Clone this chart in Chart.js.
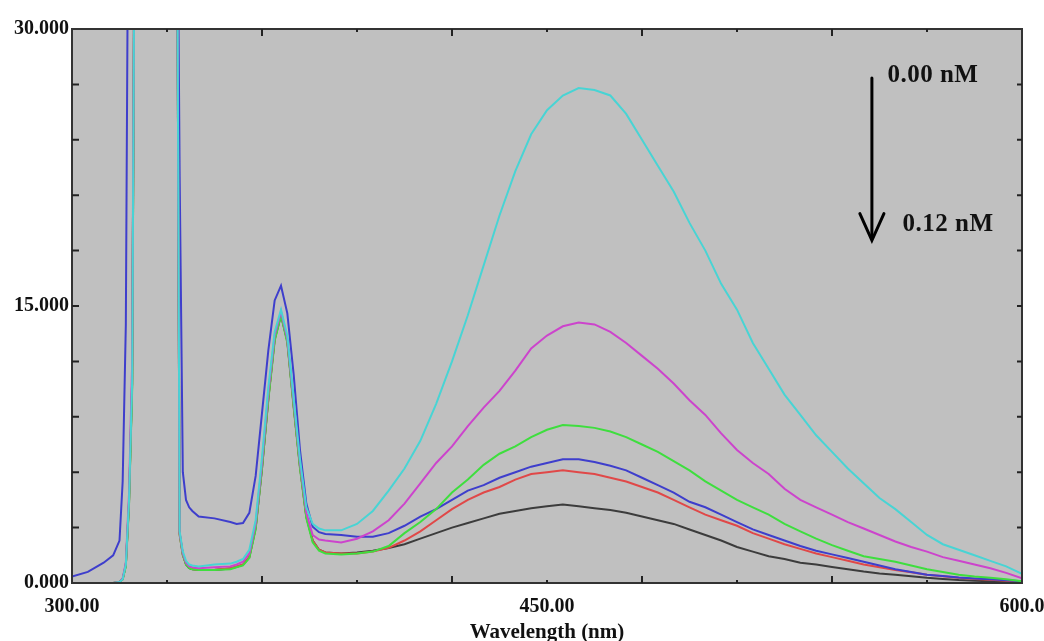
<!DOCTYPE html>
<html><head><meta charset="utf-8">
<script src="https://cdn.jsdelivr.net/npm/chart.js@4.4.1/dist/chart.umd.min.js"></script>
<style>html,body{margin:0;padding:0;background:#fff;}#wrap{width:1044px;height:641px;}</style>
</head><body><div id="wrap"><canvas id="c" width="1044" height="641"></canvas></div>
<script>
// Wavelength grid (nm)
const wavelengths = [300,305,310,313,315,316,317,318,319,320,325,330,332,333,334,335,336,337,338,340,345,350,352,354,356,358,360,362,364,366,368,370,372,374,376,378,380,385,390,395,400,405,410,415,420,425,430,435,440,445,450,455,460,465,470,475,480,485,490,495,500,505,510,515,520,525,530,535,540,545,550,555,560,565,570,575,580,585,590,595,600];

// Intensities (a.u.)  — values above 30 are off-scale scatter peaks
const cyanSeries = [0,0,0,0,0.05,0.2,1.0,4.5,11,45, 45,45, 45,45,2.8,1.7,1.2,1.0,0.95, 0.9,1.0,1.05, 1.15,1.3,1.8,3.4,6.8,10.6,13.6,14.8,13.4,10.0,6.7,4.1,3.2,2.95,2.85,
 2.85,3.2,3.9,5.0,6.2,7.7,9.7,12.0,14.5,17.2,19.9,22.3,24.3,25.6,26.4,26.8,26.7,26.4,25.4,24.0,22.6,21.2,19.5,18.0,16.2,14.8,13.0,11.6,10.2,9.1,8.0,7.1,6.2,5.4,4.6,4.0,3.3,2.6,2.1,1.8,1.5,1.2,0.9,0.5];
const magentaSeries = [0,0,0,0,0.05,0.25,1.1,4.8,12,45, 45,45, 45,45,2.7,1.6,1.1,0.9,0.85, 0.8,0.85,0.9, 1.0,1.15,1.6,3.2,6.5,10.3,13.4,14.7,13.2,9.8,6.5,3.8,2.6,2.35,2.3,
 2.2,2.4,2.8,3.4,4.3,5.4,6.5,7.4,8.5,9.5,10.4,11.5,12.7,13.4,13.9,14.1,14.0,13.6,13.0,12.3,11.6,10.8,9.9,9.1,8.1,7.2,6.5,5.9,5.1,4.5,4.1,3.7,3.3,2.95,2.6,2.25,1.95,1.7,1.4,1.2,1.0,0.8,0.55,0.25];
const greenSeries = [0,0,0,0,0.05,0.2,0.9,4.2,10.5,45, 45,45, 45,45,2.6,1.5,1.0,0.8,0.75, 0.7,0.7,0.75, 0.85,0.95,1.35,2.9,6.2,9.9,13.1,14.5,13.0,9.5,6.2,3.5,2.2,1.75,1.6,
 1.55,1.6,1.7,2.0,2.7,3.3,4.0,4.9,5.6,6.4,7.0,7.4,7.9,8.3,8.55,8.5,8.4,8.2,7.9,7.5,7.1,6.6,6.1,5.5,5.0,4.5,4.1,3.7,3.2,2.8,2.4,2.05,1.75,1.45,1.3,1.15,0.95,0.75,0.6,0.45,0.35,0.28,0.2,0.1];
const blueSeries = [0.35,0.6,1.1,1.5,2.3,5.5,14,45,45,45, 45,45, 45,45,22,6.0,4.5,4.1,3.9, 3.6,3.5,3.3, 3.2,3.25,3.8,5.8,9.2,12.6,15.3,16.1,14.6,11.3,7.2,4.3,3.05,2.75,2.65,
 2.6,2.5,2.5,2.7,3.1,3.6,4.0,4.5,5.0,5.3,5.7,6.0,6.3,6.5,6.7,6.7,6.55,6.35,6.1,5.7,5.3,4.9,4.4,4.1,3.7,3.3,2.9,2.6,2.3,2.0,1.75,1.55,1.35,1.15,0.95,0.75,0.6,0.45,0.38,0.3,0.25,0.2,0.15,0.1];
const redSeries = [0,0,0,0,0.05,0.2,1.0,4.4,11,45, 45,45, 45,45,2.6,1.5,1.05,0.85,0.75, 0.7,0.72,0.8, 0.9,1.0,1.4,3.0,6.3,10.0,13.2,14.6,13.1,9.6,6.3,3.6,2.3,1.8,1.65,
 1.6,1.6,1.7,1.9,2.3,2.8,3.4,4.0,4.5,4.9,5.2,5.6,5.9,6.0,6.1,6.0,5.9,5.7,5.5,5.2,4.9,4.5,4.1,3.7,3.4,3.1,2.7,2.4,2.1,1.85,1.6,1.4,1.2,1.0,0.85,0.7,0.58,0.45,0.36,0.28,0.22,0.18,0.12,0.08];
const blackSeries = [0,0,0,0,0.05,0.2,0.95,4.3,10.8,45, 45,45, 45,45,2.7,1.55,1.0,0.8,0.75, 0.72,0.7,0.78, 0.88,0.98,1.4,3.0,6.2,10.0,13.2,14.5,13.1,9.6,6.3,3.6,2.3,1.8,1.65,
 1.6,1.65,1.75,1.9,2.1,2.4,2.7,3.0,3.25,3.5,3.75,3.9,4.05,4.15,4.25,4.15,4.05,3.95,3.8,3.6,3.4,3.2,2.9,2.6,2.3,1.95,1.7,1.45,1.3,1.1,1.0,0.87,0.75,0.62,0.52,0.45,0.37,0.28,0.22,0.16,0.12,0.1,0.08,0.05];

const seriesLabels = ['0.00 nM','Spectrum 2','Spectrum 3','Spectrum 4','Spectrum 5','0.12 nM'];
const seriesColors = ['#48d4d4','#cc44cc','#3ede3e','#3e3ecc','#e04848','#3c3c3c'];
const yTickLabels = {0:'0.000',15:'15.000',30:'30.000'};
const xTickLabels = {300:'300.00',450:'450.00',600:'600.0'};
const annotTop = '0.00 nM', annotBottom = '0.12 nM';

const allSeries = [cyanSeries, magentaSeries, greenSeries, blueSeries, redSeries, blackSeries];
const datasets = allSeries.map((s,i)=>({
  label: seriesLabels[i],
  data: wavelengths.map((w,j)=>({x:w,y:s[j]})),
  borderColor: seriesColors[i],
  borderWidth: 2,
  pointRadius: 0,
  tension: 0,
  fill: false
}));

const SERIF = '"Liberation Serif","DejaVu Serif",serif';

const framePlugin = {
  id:'frame',
  beforeDraw(chart){
    const {ctx, chartArea:a} = chart;
    ctx.save(); ctx.fillStyle='#c0c0c0';
    ctx.fillRect(a.left,a.top,a.right-a.left,a.bottom-a.top); ctx.restore();
  },
  afterDatasetsDraw(chart){
    const {ctx, chartArea:a, scales:{x,y}} = chart;
    ctx.save();
    ctx.strokeStyle='#333'; ctx.lineWidth=2;
    ctx.strokeRect(a.left,a.top,a.right-a.left,a.bottom-a.top);
    ctx.lineWidth=2; ctx.strokeStyle='#222';
    ctx.beginPath();
    for(let v=330, k=1; v<600; v+=30, k++){
      const px = x.getPixelForValue(v); const len = (k%2===0)?7:3;
      ctx.moveTo(px,a.bottom); ctx.lineTo(px,a.bottom-len);
      ctx.moveTo(px,a.top); ctx.lineTo(px,a.top+len);
    }
    for(let v=3; v<30; v+=3){
      const py = y.getPixelForValue(v);
      ctx.moveTo(a.left,py); ctx.lineTo(a.left+7,py);
      ctx.moveTo(a.right,py); ctx.lineTo(a.right-5,py);
    }
    ctx.stroke();
    // annotation arrow
    const ax = x.getPixelForValue(552.6);
    const y0 = y.getPixelForValue(27.35), y1 = y.getPixelForValue(18.55), yh = y.getPixelForValue(20.0);
    const hw = x.getPixelForValue(552.6+3.8)-ax;
    ctx.strokeStyle='#000'; ctx.lineWidth=3; ctx.lineCap='round'; ctx.lineJoin='miter';
    ctx.beginPath(); ctx.moveTo(ax,y0); ctx.lineTo(ax,y1-2); ctx.stroke();
    ctx.beginPath(); ctx.moveTo(ax-hw,yh); ctx.lineTo(ax,y1); ctx.lineTo(ax+hw,yh); ctx.stroke();
    ctx.fillStyle='#111'; ctx.font='bold 25px '+SERIF; ctx.textBaseline='middle'; ctx.textAlign='left';
    try{ ctx.letterSpacing='0.5px'; }catch(e){}
    ctx.fillText(annotTop, x.getPixelForValue(557.5), y.getPixelForValue(27.5));
    ctx.fillText(annotBottom, x.getPixelForValue(562.3), y.getPixelForValue(19.4));
    ctx.restore();
  }
};

new Chart(document.getElementById('c'), {
  type:'line',
  data:{datasets},
  plugins:[framePlugin],
  options:{
    responsive:false, animation:false, devicePixelRatio:1,
    layout:{padding:{top:29,right:22,left:0,bottom:0}},
    plugins:{legend:{display:false}, tooltip:{enabled:false}},
    scales:{
      x:{type:'linear', min:300, max:600,
        grid:{display:false, drawTicks:false}, border:{display:false},
        afterFit(s){ s.height = 58; s.paddingLeft = 0; s.paddingRight = 0; },
        ticks:{stepSize:30, autoSkip:false, maxRotation:0, padding:12, color:'#111',
          font:{family:SERIF, size:20, weight:'bold'},
          callback:(v)=> xTickLabels[v] || ''},
        title:{display:true, text:'Wavelength (nm)', color:'#111',
          font:{family:SERIF, size:21, weight:'bold', lineHeight:0.8}, padding:{top:0,bottom:0}}
      },
      y:{type:'linear', min:0, max:30,
        grid:{display:false, drawTicks:false}, border:{display:false},
        afterFit(s){ s.width = 72; s.paddingTop = 0; s.paddingBottom = 0; },
        ticks:{stepSize:3, autoSkip:false, padding:3, color:'#111',
          font:{family:SERIF, size:20, weight:'bold'},
          callback:(v)=> yTickLabels[v] || ''}
      }
    }
  }
});
</script></body></html>
